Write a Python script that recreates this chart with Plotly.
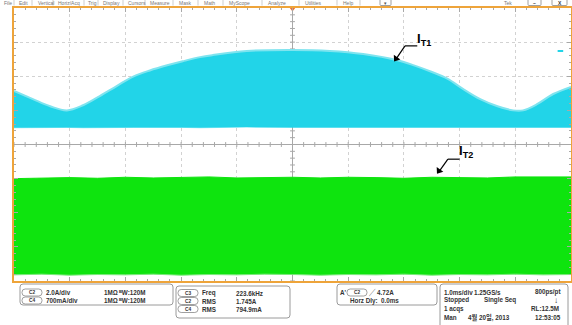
import numpy as np
import plotly.graph_objects as go

W, H = 572, 325

# ---- data (screen units: x in ms at 1.0 ms/div, y in divisions) ----
t_it1 = [-5.0, -4.66, -4.35, -4.05, -3.76, -3.46, -3.15, -2.86, -2.56, -2.25,
         -1.97, -1.66, -1.43, -0.82, 0.0, 0.67, 1.27, 1.88, 2.18, 2.48,
         2.78, 3.06, 3.37, 3.68, 3.96, 4.14, 4.39, 4.68, 5.0]
it1_upper = [1.57, 1.33, 1.12, 1.00, 1.15, 1.42, 1.72, 1.99, 2.17, 2.32,
             2.44, 2.56, 2.62, 2.74, 2.77, 2.74, 2.65, 2.47, 2.32, 2.14,
             1.93, 1.63, 1.33, 1.12, 1.00, 1.00, 1.18, 1.48, 1.69]
it1_lower = [0.49, 0.50, 0.51, 0.50, 0.49, 0.50, 0.51, 0.50, 0.50, 0.51,
             0.50, 0.49, 0.50, 0.51, 0.50, 0.50, 0.49, 0.50, 0.51, 0.50,
             0.50, 0.49, 0.50, 0.51, 0.50, 0.50, 0.51, 0.50, 0.50]

t_it2 = [-5.0, -4.5, -4.0, -3.5, -3.0, -2.5, -2.0, -1.5, -1.0, -0.5, 0.0,
         0.5, 1.0, 1.5, 2.0, 2.5, 3.0, 3.5, 4.0, 4.5, 5.0]
it2_upper = [-1.00, -0.98, -0.97, -0.99, -0.96, -0.98, -0.97, -0.95, -0.98, -0.97, -0.96,
             -0.98, -0.96, -0.97, -0.99, -0.96, -0.97, -0.98, -0.95, -0.96, -0.95]
it2_lower = [-3.82, -3.80, -3.83, -3.81, -3.82, -3.80, -3.83, -3.81, -3.82, -3.80, -3.81,
             -3.83, -3.81, -3.82, -3.80, -3.83, -3.81, -3.82, -3.80, -3.82, -3.81]

ch2_ground = 0.82
ch4_ground = -2.47
trig_level = 2.74

CYAN = "#22d4e8"
CYAN_EDGE = "#7fe4ef"
GREEN = "#0ee40e"
ORANGE = "#eea43a"

def PX(x):
    return x / W

def PY(y):
    return 1 - y / H

fig = go.Figure()

# graticule centre ticks
g = np.arange(-5, 5.001, 0.2)
fig.add_trace(go.Scatter(x=g, y=np.zeros_like(g), mode="markers",
                         marker=dict(symbol="line-ns-open", size=3.5, color="#a8a8a8",
                                     line=dict(width=1, color="#a8a8a8")),
                         hoverinfo="skip"))
gy = np.arange(-4, 4.001, 0.2)
fig.add_trace(go.Scatter(x=np.zeros_like(gy), y=gy, mode="markers",
                         marker=dict(symbol="line-ew-open", size=3.5, color="#a8a8a8",
                                     line=dict(width=1, color="#a8a8a8")),
                         hoverinfo="skip"))

# IT1 band
fig.add_trace(go.Scatter(x=t_it1, y=it1_lower, mode="lines", line=dict(width=0.5, color=CYAN),
                         hoverinfo="skip"))
fig.add_trace(go.Scatter(x=t_it1, y=it1_upper, mode="lines", line=dict(width=2, color=CYAN_EDGE),
                         fill="tonexty", fillcolor=CYAN, line_shape="spline", hoverinfo="skip"))
# IT2 band
fig.add_trace(go.Scatter(x=t_it2, y=it2_lower, mode="lines", line=dict(width=1, color="#7bea7b"),
                         hoverinfo="skip"))
fig.add_trace(go.Scatter(x=t_it2, y=it2_upper, mode="lines", line=dict(width=1, color=GREEN),
                         fill="tonexty", fillcolor=GREEN, hoverinfo="skip"))

# channel ground markers
fig.add_trace(go.Scatter(x=[-5.02], y=[ch2_ground], mode="markers", cliponaxis=False,
                         marker=dict(symbol="circle", size=10, color="#7ee8f2", line=dict(width=1.2, color="#18b9c9")),
                         hoverinfo="skip"))
fig.add_trace(go.Scatter(x=[-5.02], y=[ch4_ground], mode="markers", cliponaxis=False,
                         marker=dict(symbol="circle", size=11, color="#22c022", line=dict(width=1.2, color="#0a6a0a")),
                         hoverinfo="skip"))
# trigger position marker
fig.add_trace(go.Scatter(x=[0], y=[4.0], mode="markers", cliponaxis=False,
                         marker=dict(symbol="triangle-down", size=7, color="#f07030"),
                         hoverinfo="skip"))
# arrowheads of the label leaders
fig.add_trace(go.Scatter(x=[1.86, 2.63], y=[2.52, -0.77], mode="markers", cliponaxis=False,
                         marker=dict(symbol="triangle-up", size=7, color="black", angle=215),
                         hoverinfo="skip"))

shapes = []
# trigger level dash
shapes.append(dict(type="line", xref="x", yref="y", x0=4.76, x1=4.86, y0=trig_level, y1=trig_level,
                   line=dict(color=CYAN, width=2)))

# annotation leader lines
shapes.append(dict(type="line", xref="x", yref="y", x0=2.24, x1=2.02, y0=2.89, y1=2.89,
                   line=dict(color="black", width=1.2)))
shapes.append(dict(type="line", xref="x", yref="y", x0=2.02, x1=1.87, y0=2.89, y1=2.53,
                   line=dict(color="black", width=1.2)))
shapes.append(dict(type="line", xref="x", yref="y", x0=3.00, x1=2.79, y0=-0.43, y1=-0.43,
                   line=dict(color="black", width=1.2)))
shapes.append(dict(type="line", xref="x", yref="y", x0=2.79, x1=2.64, y0=-0.43, y1=-0.77,
                   line=dict(color="black", width=1.2)))


def rrect(x0, y0, x1, y1, r, color="#9a9a9a", width=1):
    rx, ry = r, r
    p = (f"M {PX(x0+rx)},{PY(y0)} L {PX(x1-rx)},{PY(y0)} Q {PX(x1)},{PY(y0)} {PX(x1)},{PY(y0+ry)} "
         f"L {PX(x1)},{PY(y1-ry)} Q {PX(x1)},{PY(y1)} {PX(x1-rx)},{PY(y1)} "
         f"L {PX(x0+rx)},{PY(y1)} Q {PX(x0)},{PY(y1)} {PX(x0)},{PY(y1-ry)} "
         f"L {PX(x0)},{PY(y0+ry)} Q {PX(x0)},{PY(y0)} {PX(x0+rx)},{PY(y0)} Z")
    return dict(type="path", xref="paper", yref="paper", path=p,
                line=dict(color=color, width=width), fillcolor="rgba(0,0,0,0)")

# info boxes
shapes.append(rrect(20, 284, 173, 305, 3))
shapes.append(rrect(176, 286, 290, 318, 3))
shapes.append(rrect(337, 284, 437, 305, 3))
shapes.append(rrect(440, 284, 568, 330, 3))

annotations = []
FONT = "Liberation Sans, Arial, Noto Sans CJK KR, sans-serif"


def txt(x, y, s, size=6.3, color="#333333", anchor="left", bold=True):
    annotations.append(dict(xref="paper", yref="paper", x=PX(x), y=PY(y), text=(f"<b>{s}</b>" if bold else s),
                            showarrow=False, xanchor=anchor, yanchor="middle", borderpad=0,
                            font=dict(family=FONT, size=size, color=color)))


def pill(x0, y, label):
    shapes.append(rrect(x0, y - 3.5, x0 + 20, y + 3.5, 3.2, color="#888888", width=0.8))
    txt(x0 + 10, y, label, size=4.8, anchor="center")

# box 1
pill(22, 292.5, "C2"); txt(45, 292.5, "2.0A/div"); txt(103, 292.5, "1MΩ"); txt(118, 292.5, "ᴮW:120M")
pill(22, 300.5, "C4"); txt(45, 300.5, "700mA/div"); txt(103, 300.5, "1MΩ"); txt(118, 300.5, "ᴮW:120M")
# box 2
pill(178, 293, "C3"); txt(201, 293, "Freq"); txt(235, 293, "223.6kHz")
pill(178, 301, "C2"); txt(201, 301, "RMS"); txt(235, 301, "1.745A")
pill(178, 309, "C4"); txt(201, 309, "RMS"); txt(235, 309, "794.9mA")
# box 3
txt(339, 292.5, "A'"); pill(347, 292.5, "C2"); txt(368, 292.5, "╱"); txt(376, 292.5, "4.72A")
txt(349, 300.5, "Horz Dly:"); txt(380, 300.5, "0.0ms")
# box 4
txt(443, 292, "1.0ms/div"); txt(473, 292, "1.25GS/s"); txt(534, 292, "800ps/pt")
txt(443, 300, "Stopped"); txt(483, 300, "Single Seq"); txt(553, 300, "↓", size=8)
txt(443, 308.5, "1 acqs"); txt(530, 308.5, "RL:12.5M")
txt(443, 317, "Man"); txt(467, 317, "4월 20일, 2013"); txt(534, 317, "12:53:05")

# menu bar
menu = [("File", 3), ("Edit", 18), ("Vertical", 37), ("Horiz/Acq", 57), ("Trig", 87), ("Display", 102),
        ("Cursors", 127), ("Measure", 149), ("Mask", 178), ("Math", 203), ("MyScope", 228),
        ("Analyze", 267), ("Utilities", 304), ("Help", 342)]
for name, x in menu:
    txt(x, 3.3, name, size=5, color="#777777", bold=False)
for sx in [14, 32, 53, 84, 98, 123, 145, 173, 198, 223, 262, 299, 337, 360]:
    shapes.append(dict(type="line", xref="paper", yref="paper", x0=PX(sx), x1=PX(sx), y0=PY(0), y1=PY(5.5),
                       line=dict(color="#c0c0c0", width=0.8)))
txt(503, 3.3, "Tek", size=5, color="#777777", bold=False)
shapes.append(rrect(380, -3, 391, 5.5, 1, color="#888888", width=0.8))
shapes.append(rrect(528, -3, 541, 5.5, 1, color="#888888", width=0.8))
shapes.append(rrect(552, -3, 567, 5.5, 1, color="#888888", width=0.8))
txt(385.5, 2.8, "▾", size=5, color="#555555", anchor="center", bold=False)
txt(534.5, 2.6, "–", size=5, color="#333333", anchor="center")
txt(559.5, 2.6, "X", size=5, color="#333333", anchor="center")

# trace labels
annotations.append(dict(xref="x", yref="y", x=2.22, y=3.08, text="<b>I<sub>T1</sub></b>", showarrow=False,
                        xanchor="left", yanchor="middle", borderpad=0,
                        font=dict(family=FONT, size=13, color="black")))
annotations.append(dict(xref="x", yref="y", x=2.98, y=-0.20, text="<b>I<sub>T2</sub></b>", showarrow=False,
                        xanchor="left", yanchor="middle", borderpad=0,
                        font=dict(family=FONT, size=13, color="black")))

axis_common = dict(showticklabels=False, showgrid=True, gridcolor="#d2d2d2", griddash="dot", gridwidth=1,
                   zeroline=True, zerolinecolor="#a8a8a8", zerolinewidth=1,
                   showline=True, linecolor=ORANGE, linewidth=2, mirror="ticks",
                   ticks="inside", ticklen=4, tickcolor="#a8a8a8", tickwidth=1,
                   minor=dict(ticks="inside", ticklen=2, tickcolor="#a8a8a8", showgrid=False))

fig.update_layout(
    width=W, height=H, margin=dict(l=0, r=0, t=0, b=0),
    paper_bgcolor="white", plot_bgcolor="white", showlegend=False,
    xaxis=dict(range=[-5, 5], domain=[PX(14), PX(571)], dtick=1, tick0=0, **axis_common),
    yaxis=dict(range=[-4, 4], domain=[PY(281), PY(8)], dtick=1, tick0=0, **axis_common),
    shapes=shapes, annotations=annotations,
)
fig.update_xaxes(minor_dtick=0.2)
fig.update_yaxes(minor_dtick=0.2)

fig.write_html("out.html")
